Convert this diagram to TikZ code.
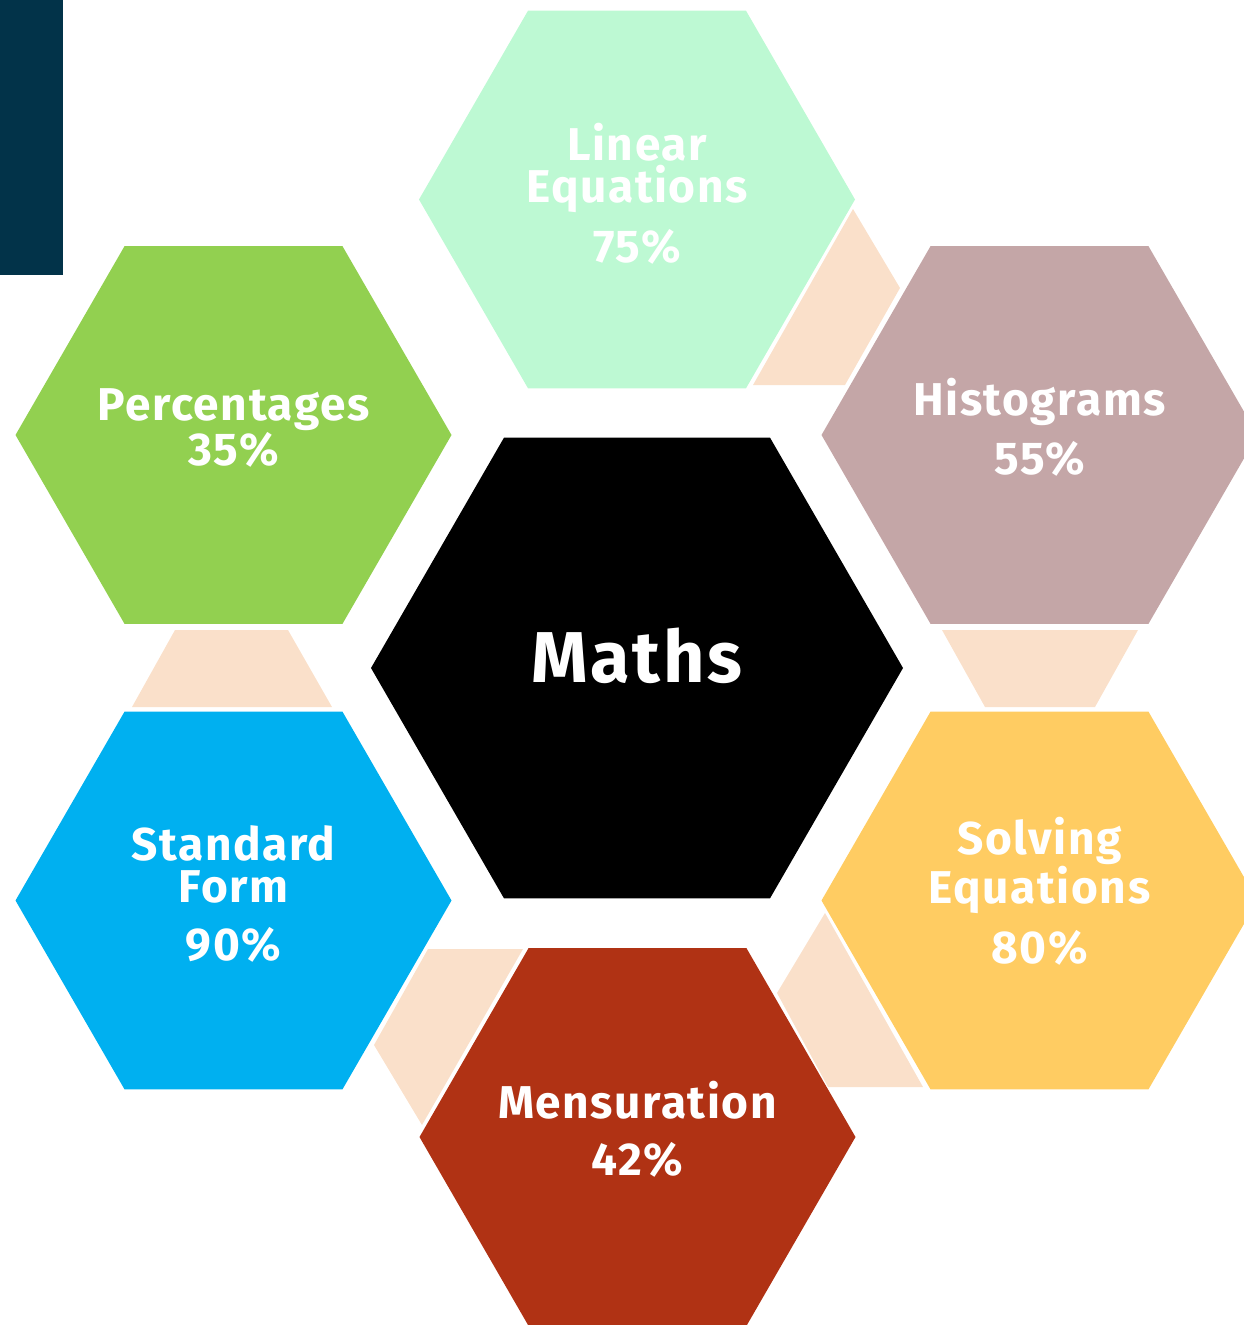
\documentclass[tikz,border=0pt]{standalone}
\usepackage{fontspec}
\setmainfont{Fira Sans}
\newfontfamily\topicfamily{Fira Sans}[LetterSpace=3.5]
\usepackage{xcolor}
\usepackage{tikz}
\usetikzlibrary{shapes.geometric}
\definecolor{mint}{RGB}{189,249,211}
\definecolor{mauve}{RGB}{196,166,167}
\definecolor{leaf}{RGB}{146,208,80}
\definecolor{sky}{RGB}{0,176,240}
\definecolor{amber}{RGB}{255,204,98}
\definecolor{rust}{RGB}{176,50,20}
\definecolor{peach}{RGB}{250,224,202}
\definecolor{navy}{RGB}{2,51,73}
\newcommand{\topicfont}{\topicfamily\bfseries\fontsize{46}{42}\selectfont}

\begin{document}
\begin{tikzpicture}[x=1pt, y=-1pt,
	hexa/.style={regular polygon, regular polygon sides=6, inner sep=0pt, minimum size=436pt},
	topic/.style={text=white, font=\topicfont, align=center}]
	\useasboundingbox (0,0) rectangle (1243,1325);
	\fill[navy] (0,0) rectangle (63,275);
	
	\fill[peach] (853,209) -- (900,288) -- (845,385) -- (753,385) -- cycle;
	\fill[peach] (942,630) -- (1138,630) -- (1095,707) -- (985,707) -- cycle;
	\fill[peach] (175,630) -- (288,630) -- (332,707) -- (132,707) -- cycle;
	\fill[peach] (428,949) -- (523,949) -- (422,1125) -- (374,1045) -- cycle;
	\fill[peach] (825,913) -- (777,993) -- (828,1087) -- (923,1087) -- cycle;
	
	\node[hexa, fill=black, minimum size=532pt] (maths) at (637,668) {};
	\node[hexa, fill=mint] (lin) at (637,199.5) {};
	\node[hexa, fill=mauve] (hist) at (1039.5,435) {};
	\node[hexa, fill=amber] (solv) at (1039.5,900.5) {};
	\node[hexa, fill=rust] (mens) at (637.5,1137) {};
	\node[hexa, fill=sky] (form) at (233.5,900.5) {};
	\node[hexa, fill=leaf] (perc) at (233.5,435) {};
	
	\node[topic, font=\topicfamily\bfseries\fontsize{72}{72}\selectfont] (maths-t) at ([yshift=12pt]maths) {Maths};
	\node[topic] (lin-t) at ([yshift=6pt]lin) {Linear\\Equations\\[16pt]75\%};
	\node[topic] (hist-t) at ([yshift=8pt]hist) {Histograms\\[15pt]55\%};
	\node[topic] (solv-t) at ([yshift=9pt]solv) {Solving\\Equations\\[16pt]80\%};
	\node[topic] (mens-t) at ([yshift=8pt]mens) {Mensuration\\[15pt]42\%};
	\node[topic] (form-t) at ([yshift=7pt]form) {Standard\\Form\\[16pt]90\%};
	\node[topic] (perc-t) at ([yshift=7pt]perc) {Percentages\\35\%};
\end{tikzpicture}
\end{document}
